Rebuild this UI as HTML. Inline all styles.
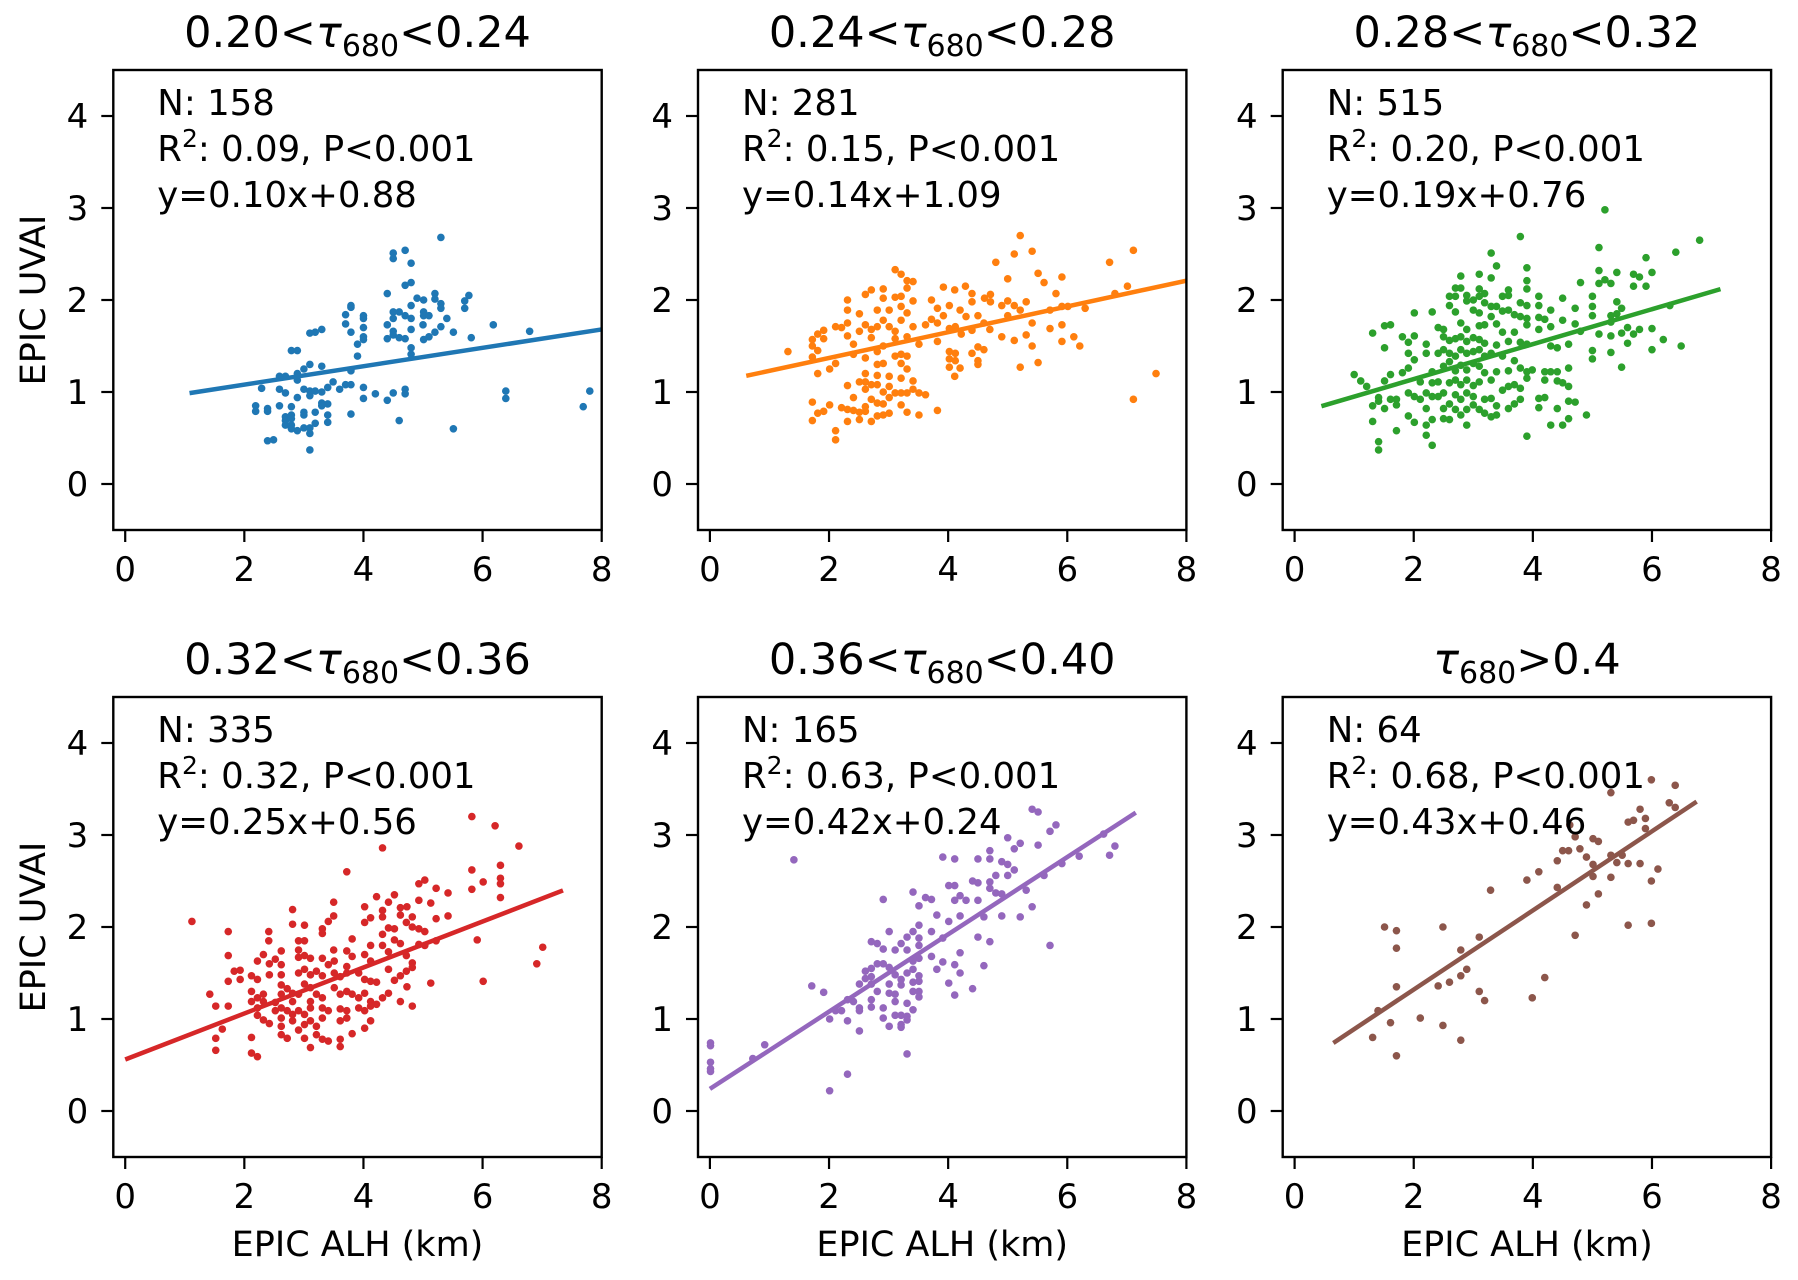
<!DOCTYPE html>
<html><head><meta charset="utf-8"><style>
html,body{margin:0;padding:0;background:#fff;}
svg{display:block;font-family:"DejaVu Sans","Liberation Sans",sans-serif;}
</style></head>
<body>
<svg id="fig" width="1798" height="1280" viewBox="0 0 1798 1280" xmlns="http://www.w3.org/2000/svg"></svg>
<script>
// ---- data ----
const titlesLo = ["0.20","0.24","0.28","0.32","0.36",""];
const titlesHi = ["0.24","0.28","0.32","0.36","0.40","0.4"];
const counts = [158, 281, 515, 335, 165, 64];
const r2Values = ["0.09","0.15","0.20","0.32","0.63","0.68"];
const slopes = [0.10, 0.14, 0.19, 0.25, 0.42, 0.43];
const intercepts = [0.88, 1.09, 0.76, 0.56, 0.24, 0.46];
const lineStart = [1.08, 0.61, 0.45, 0.0, 0.0, 0.65];
const lineEnd = [8.0, 8.0, 7.15, 7.35, 7.15, 6.75];
const xTicks = [0, 2, 4, 6, 8];
const yTicks = [0, 1, 2, 3, 4];
const colors = ["#1f77b4","#ff7f0e","#2ca02c","#d62728","#9467bd","#8c564b"];

const pts1 = [[5.30,2.68],[4.50,2.51],[4.70,2.54],[4.50,2.45],[4.80,2.40],[4.70,2.16],[4.80,2.19],[4.40,2.07],[5.20,2.07],[5.77,2.05],[4.90,2.02],[5.01,2.00],[5.20,2.01],[5.30,1.96],[5.70,1.99],[5.70,1.91],[5.30,1.91],[3.79,1.94],[3.79,1.92],[3.70,1.84],[4.00,1.83],[4.00,1.80],[4.80,1.94],[4.50,1.87],[4.60,1.87],[4.70,1.83],[5.01,1.87],[5.01,1.83],[5.10,1.83],[4.80,1.80],[4.50,1.80],[5.40,1.80],[4.40,1.73],[5.00,1.73],[5.30,1.71],[3.70,1.74],[4.00,1.70],[6.18,1.73],[6.79,1.66],[5.20,1.65],[5.51,1.65],[4.50,1.66],[4.80,1.68],[4.50,1.62],[3.79,1.65],[3.30,1.68],[3.19,1.65],[3.10,1.64],[4.00,1.60],[4.00,1.57],[4.40,1.58],[4.60,1.59],[4.70,1.58],[5.10,1.60],[5.01,1.57],[5.81,1.59],[3.90,1.52],[4.80,1.48],[4.80,1.41],[3.90,1.39],[2.79,1.45],[2.89,1.45],[3.10,1.30],[3.30,1.28],[3.00,1.25],[3.79,1.23],[2.59,1.17],[2.69,1.17],[2.89,1.20],[2.89,1.13],[3.49,1.11],[2.29,1.04],[2.59,1.03],[2.69,0.99],[3.00,1.03],[3.10,1.01],[3.19,1.01],[3.30,1.00],[3.40,1.05],[3.60,1.03],[3.70,1.08],[3.79,1.08],[4.00,1.05],[4.20,0.98],[4.50,0.99],[4.70,1.03],[4.70,0.98],[6.39,1.01],[6.39,0.93],[7.80,1.01],[7.69,0.84],[2.89,0.94],[3.10,0.96],[3.30,0.88],[3.30,0.85],[3.40,0.87],[2.79,0.84],[2.59,0.85],[2.19,0.85],[2.39,0.82],[2.19,0.79],[2.39,0.79],[4.00,0.93],[4.40,0.91],[2.69,0.73],[2.79,0.75],[2.69,0.69],[2.79,0.71],[3.00,0.78],[3.00,0.75],[3.19,0.78],[3.40,0.75],[3.79,0.76],[2.69,0.64],[2.79,0.64],[3.19,0.66],[3.40,0.67],[4.60,0.69],[2.79,0.60],[2.89,0.58],[3.00,0.61],[3.10,0.61],[3.10,0.55],[5.51,0.60],[2.39,0.47],[2.49,0.48],[3.10,0.37]];

const pts2 = [[5.21,2.70],[5.11,2.50],[5.41,2.53],[4.80,2.41],[7.11,2.54],[6.71,2.41],[5.0,2.23],[5.51,2.29],[5.61,2.19],[5.91,2.25],[7.01,2.15],[5.81,2.07],[6.80,2.07],[7.49,1.20],[7.11,0.92],[3.11,2.33],[3.21,2.28],[3.31,2.21],[3.41,2.20],[3.31,2.13],[2.91,2.12],[2.71,2.11],[2.61,2.06],[2.31,2.00],[2.91,2.02],[3.11,2.03],[3.21,2.04],[3.41,1.99],[3.72,2.00],[3.92,2.14],[4.11,2.11],[4.29,2.15],[4.40,2.07],[4.61,2.02],[4.71,2.06],[4.71,1.98],[4.40,1.98],[2.31,1.89],[2.51,1.85],[2.81,1.89],[3.01,1.89],[3.21,1.93],[3.31,1.86],[3.82,1.91],[4.02,1.94],[3.92,1.83],[4.20,1.89],[4.30,1.82],[4.50,1.83],[4.90,1.94],[5.00,1.99],[5.11,1.94],[5.31,1.98],[5.21,1.89],[5.00,1.83],[5.71,1.89],[5.91,1.93],[6.01,1.93],[6.30,1.91],[1.81,1.63],[1.91,1.67],[2.11,1.71],[2.21,1.70],[2.31,1.75],[2.31,1.61],[2.51,1.66],[2.61,1.73],[2.71,1.68],[2.81,1.71],[2.91,1.78],[3.01,1.71],[3.11,1.66],[3.21,1.78],[3.41,1.71],[3.62,1.73],[3.72,1.79],[3.82,1.75],[4.02,1.69],[4.12,1.71],[4.22,1.63],[4.40,1.67],[4.60,1.75],[4.70,1.68],[5.41,1.75],[5.71,1.69],[5.91,1.73],[1.72,1.57],[1.91,1.58],[1.72,1.50],[2.41,1.52],[2.71,1.59],[2.91,1.50],[3.11,1.58],[3.31,1.60],[3.51,1.52],[3.82,1.55],[4.50,1.49],[4.60,1.46],[4.90,1.60],[5.11,1.56],[5.31,1.62],[5.41,1.50],[5.91,1.55],[6.11,1.60],[6.21,1.50],[1.31,1.44],[1.72,1.38],[1.81,1.45],[1.81,1.20],[2.01,1.25],[2.11,1.31],[2.41,1.41],[2.61,1.37],[2.81,1.44],[2.81,1.30],[2.91,1.31],[3.11,1.39],[3.21,1.41],[3.31,1.39],[3.21,1.31],[3.31,1.25],[4.02,1.44],[4.12,1.42],[4.02,1.36],[4.12,1.34],[4.02,1.27],[4.20,1.26],[4.11,1.17],[4.40,1.42],[4.50,1.34],[4.50,1.30],[5.21,1.27],[5.51,1.32],[2.31,1.07],[2.61,1.20],[2.81,1.18],[2.51,1.11],[2.61,1.11],[2.71,1.08],[2.61,1.03],[2.81,1.08],[2.91,1.00],[3.01,1.17],[3.01,1.06],[3.21,1.15],[3.41,1.12],[3.11,0.99],[3.21,0.99],[3.31,0.99],[3.41,1.03],[3.51,0.99],[3.62,0.97],[2.41,0.94],[2.71,0.92],[2.81,0.88],[2.91,0.87],[3.01,0.94],[3.21,0.86],[1.72,0.89],[2.01,0.86],[1.91,0.79],[1.81,0.77],[2.21,0.83],[2.31,0.81],[2.41,0.80],[2.51,0.78],[2.61,0.84],[2.61,0.79],[2.81,0.74],[2.91,0.75],[3.01,0.77],[3.31,0.78],[3.51,0.75],[3.82,0.80],[1.72,0.69],[2.31,0.68],[2.51,0.70],[2.71,0.68],[2.11,0.58],[2.11,0.48]];

const pts3 = [[5.21,2.98],[3.79,2.69],[6.80,2.65],[3.30,2.51],[5.11,2.57],[6.40,2.52],[5.90,2.46],[3.39,2.37],[3.90,2.35],[2.79,2.26],[3.10,2.28],[3.30,2.24],[3.90,2.21],[5.11,2.32],[5.41,2.30],[5.69,2.28],[5.79,2.25],[6.00,2.30],[4.80,2.19],[5.11,2.18],[5.21,2.22],[5.31,2.18],[5.69,2.15],[5.90,2.15],[3.90,2.12],[2.70,2.13],[2.79,2.13],[3.10,2.12],[3.59,2.11],[2.60,2.04],[2.70,2.04],[2.89,2.05],[3.10,2.04],[3.19,2.07],[3.49,2.04],[3.59,2.05],[4.10,2.04],[4.50,2.02],[5.00,2.04],[2.60,1.94],[2.89,1.99],[3.00,2.00],[3.19,1.97],[3.30,1.93],[3.39,1.93],[3.49,1.88],[3.59,1.89],[3.79,1.97],[3.90,1.94],[4.10,1.94],[4.30,1.89],[4.71,1.91],[5.00,1.93],[5.41,1.98],[5.49,1.91],[6.30,1.94],[2.01,1.86],[2.31,1.87],[2.70,1.87],[3.00,1.89],[3.10,1.86],[3.30,1.82],[3.69,1.84],[3.79,1.82],[3.90,1.80],[4.10,1.81],[4.20,1.79],[4.50,1.78],[5.00,1.83],[5.31,1.83],[5.41,1.85],[5.31,1.76],[1.51,1.72],[1.61,1.73],[2.41,1.70],[2.50,1.68],[2.79,1.75],[2.89,1.68],[3.10,1.72],[3.19,1.73],[3.39,1.74],[3.49,1.65],[3.69,1.65],[3.90,1.73],[4.10,1.68],[4.30,1.71],[4.71,1.74],[4.80,1.66],[5.11,1.63],[5.31,1.61],[5.49,1.64],[5.59,1.70],[5.69,1.63],[5.79,1.68],[6.00,1.69],[1.31,1.64],[1.81,1.60],[2.01,1.61],[1.91,1.54],[2.21,1.52],[2.50,1.60],[2.60,1.56],[2.70,1.58],[2.79,1.60],[2.89,1.55],[3.00,1.59],[3.10,1.57],[3.19,1.53],[3.39,1.51],[3.59,1.55],[3.79,1.54],[3.90,1.52],[4.30,1.50],[4.41,1.48],[4.60,1.52],[5.59,1.53],[6.19,1.57],[6.49,1.50],[1.51,1.48],[1.91,1.42],[2.01,1.35],[2.21,1.42],[2.41,1.42],[2.50,1.46],[2.60,1.42],[2.70,1.39],[2.79,1.46],[2.89,1.42],[3.00,1.44],[3.10,1.46],[3.19,1.39],[3.30,1.42],[3.49,1.39],[3.69,1.34],[5.00,1.45],[5.31,1.43],[6.00,1.46],[5.00,1.36],[5.49,1.27],[1.00,1.19],[1.11,1.12],[1.21,1.06],[1.51,1.12],[1.61,1.19],[1.81,1.21],[1.91,1.26],[2.11,1.11],[2.31,1.22],[2.50,1.28],[2.60,1.33],[2.70,1.23],[2.79,1.29],[2.89,1.24],[3.00,1.31],[3.10,1.28],[3.19,1.21],[3.39,1.22],[3.59,1.23],[3.79,1.26],[3.90,1.22],[3.99,1.24],[4.20,1.22],[4.30,1.22],[4.41,1.22],[4.60,1.26],[2.31,1.10],[2.41,1.11],[2.60,1.10],[2.70,1.13],[2.79,1.08],[2.89,1.13],[3.00,1.07],[3.10,1.11],[3.30,1.13],[3.49,1.02],[3.59,1.06],[3.69,1.08],[3.79,1.04],[3.90,1.15],[4.20,1.13],[4.41,1.12],[4.50,1.10],[4.60,1.06],[1.91,0.99],[2.01,0.95],[2.11,0.92],[2.21,0.99],[2.31,0.95],[2.41,0.95],[2.50,0.99],[2.70,0.97],[2.79,0.92],[2.89,0.99],[3.00,0.95],[3.19,0.92],[3.30,0.93],[4.10,0.93],[4.20,0.94],[1.41,0.94],[1.41,0.90],[1.31,0.85],[1.61,0.92],[1.71,0.92],[1.71,0.86],[1.51,0.82],[2.21,0.82],[2.50,0.82],[2.60,0.87],[2.70,0.81],[2.79,0.75],[2.89,0.81],[3.00,0.86],[3.10,0.81],[3.19,0.77],[3.39,0.85],[3.59,0.82],[3.69,0.87],[3.79,0.92],[4.10,0.83],[4.41,0.82],[4.60,0.90],[4.71,0.89],[1.31,0.68],[1.91,0.74],[2.01,0.67],[2.21,0.64],[2.31,0.70],[2.50,0.71],[2.60,0.70],[2.89,0.64],[3.30,0.73],[3.39,0.75],[4.30,0.64],[4.50,0.64],[4.60,0.71],[4.90,0.75],[1.71,0.58],[2.21,0.53],[3.90,0.52],[2.31,0.42],[1.41,0.46],[1.41,0.37]];

const pts4 = [[5.82,3.20],[6.21,3.10],[4.32,2.86],[6.61,2.88],[3.72,2.60],[5.82,2.62],[6.30,2.67],[6.01,2.49],[6.30,2.53],[6.30,2.47],[5.82,2.41],[6.30,2.32],[4.93,2.47],[5.03,2.51],[5.22,2.42],[5.42,2.37],[4.22,2.33],[4.42,2.27],[4.52,2.35],[3.50,2.27],[4.02,2.22],[4.32,2.18],[4.62,2.21],[4.73,2.22],[4.93,2.29],[5.13,2.26],[2.81,2.19],[3.50,2.12],[3.41,2.06],[4.02,2.05],[4.12,2.10],[4.32,2.11],[4.62,2.13],[4.82,2.11],[5.22,2.09],[5.42,2.12],[1.12,2.06],[1.73,1.95],[2.41,1.95],[2.81,2.03],[3.01,2.02],[3.31,1.98],[3.31,1.93],[4.42,1.99],[4.52,1.98],[4.72,2.05],[4.82,2.00],[4.93,1.98],[5.03,1.95],[2.41,1.85],[2.91,1.85],[3.01,1.85],[3.81,1.87],[4.32,1.92],[4.32,1.80],[4.52,1.86],[4.62,1.82],[4.93,1.81],[5.03,1.80],[5.22,1.85],[5.91,1.86],[7.01,1.78],[6.91,1.60],[1.73,1.69],[2.62,1.74],[2.91,1.75],[3.50,1.75],[3.72,1.74],[4.12,1.80],[4.02,1.70],[4.42,1.73],[4.72,1.69],[2.22,1.63],[2.32,1.70],[2.42,1.60],[2.52,1.65],[2.62,1.59],[2.91,1.67],[3.01,1.69],[3.11,1.66],[3.31,1.66],[3.41,1.59],[3.51,1.63],[3.81,1.68],[3.72,1.57],[4.12,1.63],[4.82,1.61],[1.83,1.52],[1.93,1.53],[1.73,1.41],[1.93,1.43],[2.22,1.43],[2.12,1.47],[2.42,1.48],[2.62,1.48],[2.91,1.50],[3.01,1.54],[3.11,1.48],[3.21,1.52],[3.31,1.47],[3.51,1.50],[3.61,1.46],[3.72,1.50],[3.92,1.50],[4.02,1.43],[4.12,1.41],[4.22,1.40],[4.42,1.54],[4.52,1.42],[4.62,1.47],[4.72,1.52],[4.82,1.56],[5.13,1.39],[6.01,1.41],[1.42,1.27],[1.52,1.14],[1.73,1.14],[2.12,1.30],[2.12,1.19],[2.22,1.23],[2.32,1.27],[2.32,1.19],[2.52,1.18],[2.62,1.37],[2.62,1.27],[2.72,1.33],[2.81,1.28],[2.81,1.19],[2.91,1.27],[3.01,1.38],[3.11,1.34],[3.11,1.19],[3.21,1.27],[3.31,1.23],[3.51,1.34],[3.61,1.27],[3.72,1.30],[3.81,1.27],[3.92,1.23],[4.02,1.28],[4.12,1.19],[4.42,1.28],[4.32,1.23],[4.62,1.19],[4.73,1.35],[2.22,1.12],[2.52,1.09],[2.62,1.12],[2.72,1.09],[2.81,1.05],[2.91,1.09],[3.01,1.05],[3.11,1.12],[3.31,1.12],[3.41,1.09],[3.61,1.11],[3.72,1.09],[3.92,1.12],[4.02,1.09],[4.12,1.14],[4.22,1.16],[4.82,1.14],[2.22,1.04],[2.32,0.99],[2.42,0.95],[2.62,1.01],[2.62,0.92],[2.81,0.98],[2.91,0.88],[3.01,0.94],[3.11,0.98],[3.21,0.92],[3.31,1.01],[3.61,0.98],[3.72,1.01],[4.02,0.90],[4.12,0.98],[1.63,0.89],[1.52,0.79],[1.52,0.66],[2.12,0.80],[2.12,0.63],[2.22,0.59],[2.62,0.83],[2.72,0.79],[3.01,0.79],[3.11,0.69],[3.21,0.83],[3.31,0.78],[3.41,0.76],[3.61,0.78],[3.61,0.70],[3.81,0.84]];

const pts5 = [[5.41,3.28],[5.51,3.25],[5.81,3.11],[5.71,3.04],[5.51,2.89],[6.61,3.01],[6.80,2.88],[6.71,2.78],[6.20,2.77],[5.91,2.69],[5.61,2.56],[5.00,2.97],[5.21,2.91],[5.11,2.85],[4.70,2.83],[4.70,2.74],[4.50,2.74],[4.11,2.74],[3.91,2.76],[4.90,2.71],[5.00,2.68],[5.11,2.62],[5.00,2.56],[4.80,2.56],[4.70,2.49],[4.70,2.42],[4.41,2.50],[4.50,2.48],[4.01,2.45],[4.11,2.45],[4.80,2.37],[4.90,2.36],[5.31,2.40],[5.41,2.22],[5.21,2.11],[4.90,2.12],[4.60,2.11],[4.50,2.29],[4.30,2.29],[4.20,2.34],[4.11,2.29],[4.20,2.12],[4.01,2.06],[3.81,2.13],[3.41,2.38],[3.62,2.32],[3.72,2.30],[3.51,2.23],[2.91,2.30],[1.41,2.73],[3.51,2.02],[3.72,1.95],[3.01,1.95],[3.41,1.95],[3.31,1.89],[3.51,1.88],[2.71,1.84],[2.81,1.82],[2.91,1.76],[3.21,1.82],[3.11,1.75],[3.31,1.75],[3.51,1.80],[3.91,1.88],[4.50,1.89],[4.70,1.84],[5.71,1.80],[4.20,1.72],[3.72,1.68],[3.91,1.62],[4.11,1.59],[4.60,1.58],[3.81,1.54],[4.20,1.50],[2.81,1.60],[2.91,1.60],[3.01,1.56],[2.71,1.55],[2.61,1.52],[3.51,1.66],[3.41,1.63],[3.31,1.50],[3.41,1.54],[3.51,1.47],[3.51,1.41],[3.41,1.40],[3.21,1.43],[3.21,1.37],[3.11,1.48],[3.01,1.38],[2.71,1.46],[2.61,1.44],[2.51,1.38],[2.71,1.38],[2.81,1.30],[3.01,1.28],[3.11,1.27],[3.41,1.30],[3.51,1.30],[3.51,1.24],[3.31,1.17],[3.11,1.19],[2.71,1.21],[2.71,1.13],[2.51,1.12],[2.51,1.09],[2.41,1.19],[2.31,1.21],[2.91,1.12],[3.41,1.10],[3.11,1.04],[3.21,1.04],[3.31,1.03],[3.31,0.99],[2.91,1.01],[3.21,0.94],[3.21,0.91],[3.01,0.92],[2.51,0.87],[2.31,0.98],[2.21,1.09],[2.11,1.09],[2.01,1.00],[1.71,1.36],[1.91,1.29],[3.31,0.62],[2.31,0.40],[2.01,0.22],[0.92,0.72],[0.72,0.57],[0.01,0.74],[0.01,0.71],[0.01,0.53],[0.01,0.46],[0.01,0.43],[4.41,1.33],[4.11,1.26],[4.01,1.39]];

const pts6 = [[5.99,3.60],[6.39,3.54],[5.31,3.46],[6.29,3.35],[6.39,3.30],[5.80,3.28],[5.89,3.18],[5.60,3.14],[5.69,3.16],[4.62,3.11],[5.89,3.07],[4.71,2.98],[5.01,2.96],[5.10,2.93],[4.79,2.85],[4.50,2.83],[4.60,2.83],[4.90,2.76],[5.31,2.78],[5.50,2.78],[4.41,2.72],[5.01,2.68],[5.41,2.70],[5.60,2.69],[5.80,2.69],[5.01,2.55],[5.31,2.54],[6.10,2.63],[5.99,2.50],[4.10,2.60],[3.90,2.51],[4.41,2.43],[5.10,2.36],[3.29,2.40],[4.90,2.24],[5.60,2.02],[5.99,2.04],[4.71,1.91],[1.51,2.00],[1.71,1.96],[2.49,2.00],[3.10,1.89],[1.71,1.77],[2.79,1.75],[2.89,1.54],[2.79,1.47],[4.20,1.45],[1.71,1.35],[2.41,1.36],[2.60,1.40],[3.10,1.30],[3.19,1.20],[3.99,1.23],[1.40,1.09],[2.11,1.01],[1.61,0.96],[2.49,0.93],[1.31,0.80],[2.79,0.77],[1.71,0.60]];

const allPts = [pts1, pts2, pts3, pts4, pts5, pts6];

// ---- layout ----
const NS = "http://www.w3.org/2000/svg";
const svg = document.getElementById("fig");
const panelLefts = [113.3, 698, 1282.7];
const panelTops = [70, 697];
const PW = 488.4, PH = 460;
const XMIN = -0.2, XMAX = 8, YMIN = -0.5, YMAX = 4.5;

function mk(tag, attrs, parent) {
  const e = document.createElementNS(NS, tag);
  for (const k in attrs) e.setAttribute(k, attrs[k]);
  (parent || svg).appendChild(e);
  return e;
}

for (let i = 0; i < 6; i++) {
  const col = i % 3, row = Math.floor(i / 3);
  const L = panelLefts[col], T = panelTops[row];
  const sx = v => L + (v - XMIN) / (XMAX - XMIN) * PW;
  const sy = v => T + (YMAX - v) / (YMAX - YMIN) * PH;
  const g = mk("g", {});
  
  

  const cp = mk("clipPath", {id: "clip" + i}, g);
  mk("rect", {x: L, y: T, width: PW, height: PH}, cp);

  const pg = mk("g", {"clip-path": "url(#clip" + i + ")"}, g);
  
  
  allPts[i].forEach(p => {
    const c = mk("circle", {cx: sx(p[0]), cy: sy(p[1]), r: 3.8, fill: colors[i]}, pg);
    
    
  });

  const x1 = lineStart[i], x2 = lineEnd[i];
  const ln = mk("line", {x1: sx(x1), y1: sy(slopes[i] * x1 + intercepts[i]), x2: sx(x2), y2: sy(slopes[i] * x2 + intercepts[i]), stroke: colors[i], "stroke-width": 4.5, "clip-path": "url(#clip" + i + ")"}, g);
  
  

  const fr = mk("rect", {x: L, y: T, width: PW, height: PH, fill: "none", stroke: "#000", "stroke-width": 2.4}, g);
  
  

  xTicks.forEach(t => {
    const x = sx(t);
    const tk = mk("line", {x1: x, y1: T + PH, x2: x, y2: T + PH + 12, stroke: "#000", "stroke-width": 2.2}, g);
    
    
    const tl = mk("text", {x: x, y: T + PH + 51, "font-size": 34, "text-anchor": "middle"}, g);
    tl.textContent = t;
    
    
  });
  yTicks.forEach(t => {
    const y = sy(t);
    const tk = mk("line", {x1: L - 12, y1: y, x2: L, y2: y, stroke: "#000", "stroke-width": 2.2}, g);
    
    
    const tl = mk("text", {x: L - 25, y: y + 12, "font-size": 34, "text-anchor": "end"}, g);
    tl.textContent = t;
    
    
  });

  const tt = mk("text", {x: L + PW / 2, y: T - 23, "font-size": 43, "text-anchor": "middle"}, g);
  
  
  if (titlesLo[i]) {
    const a = mk("tspan", {}, tt); a.textContent = titlesLo[i] + "<";
  }
  const tau = mk("tspan", {"font-style": "italic"}, tt); tau.textContent = "τ";
  const sub = mk("tspan", {"font-size": 30, dy: 9}, tt); sub.textContent = "680";
  const rest = mk("tspan", {dy: -9}, tt);
  rest.textContent = (titlesLo[i] ? "<" : ">") + titlesHi[i];

  const n = mk("text", {x: L + 44, y: T + 45, "font-size": 35.5}, g);
  n.textContent = "N: " + counts[i];
  
  
  const r = mk("text", {x: L + 44, y: T + 91, "font-size": 35.5}, g);
  
  
  const r1 = mk("tspan", {}, r); r1.textContent = "R";
  const r2 = mk("tspan", {"font-size": 25, dy: -14}, r); r2.textContent = "2";
  const r3 = mk("tspan", {dy: 14}, r); r3.textContent = ": " + r2Values[i] + ", P<0.001";
  const eq = mk("text", {x: L + 44, y: T + 137, "font-size": 35.5}, g);
  eq.textContent = "y=" + slopes[i].toFixed(2) + "x+" + intercepts[i].toFixed(2);
  
  

  if (col === 0) {
    const yl = mk("text", {x: 0, y: 0, "font-size": 35, "text-anchor": "middle", transform: "translate(45," + (T + PH / 2) + ") rotate(-90)"}, g);
    yl.textContent = "EPIC UVAI";
    
    
  }
  if (row === 1) {
    const xl = mk("text", {x: L + PW / 2, y: T + PH + 99, "font-size": 35, "text-anchor": "middle"}, g);
    xl.textContent = "EPIC ALH (km)";
    
    
  }
}
</script>
</body></html>
